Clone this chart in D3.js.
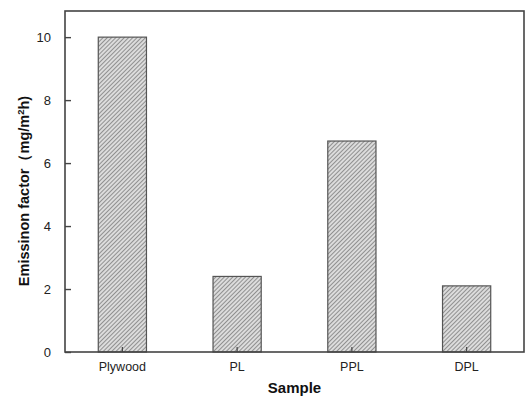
<!DOCTYPE html>
<html>
<head>
<meta charset="utf-8">
<script src="https://cdn.jsdelivr.net/npm/d3@7"></script>
<style>
  body { margin: 0; background: #fff; }
  svg { display: block; font-family: "Liberation Sans", Arial, sans-serif; }
</style>
</head>
<body>
<div class="container"></div>
<script>
// data
var samples = ["Plywood", "PL", "PPL", "DPL"];
var emission = [10.0, 2.4, 6.7, 2.1];
var yTicks = [0, 2, 4, 6, 8, 10];

var W = 526, H = 397;
var margin = {top: 11, right: 2, bottom: 45, left: 65};

var svg = d3.select('.container').append('svg')
  .attr('width', W).attr('height', H);

// hatch pattern for the bars
var pat = svg.append('defs').append('pattern')
  .attr('id', 'hatch')
  .attr('patternUnits', 'userSpaceOnUse')
  .attr('width', 3).attr('height', 3)
  .attr('patternTransform', 'rotate(45)');
pat.append('rect').attr('width', 3).attr('height', 3).attr('fill', '#dcdcdc');
pat.append('line')
  .attr('x1', 0).attr('y1', 0).attr('x2', 0).attr('y2', 3)
  .attr('stroke', '#666').attr('stroke-width', 1.3);

var x = d3.scaleBand()
  .domain(samples)
  .range([margin.left, W - margin.right])
  .paddingInner(0.58).paddingOuter(0.29);

var y = d3.scaleLinear()
  .domain([0, 10.83])
  .range([H - margin.bottom, margin.top]);

var data = samples.map(function(s, i){ return {name: s, v: emission[i]}; });

// bars
svg.selectAll('rect.bar')
  .data(data)
  .enter().append('rect')
  .attr('class', 'bar')
  .attr('x', function(d){ return x(d.name); })
  .attr('width', x.bandwidth())
  .attr('y', function(d){ return y(d.v); })
  .attr('height', function(d){ return y(0) - y(d.v); })
  .attr('fill', 'url(#hatch)')
  .attr('stroke', '#555')
  .attr('stroke-width', 1.2);

// frame
svg.append('rect')
  .attr('x', margin.left).attr('y', margin.top)
  .attr('width', W - margin.right - margin.left)
  .attr('height', H - margin.bottom - margin.top)
  .attr('fill', 'none')
  .attr('stroke', '#444')
  .attr('stroke-width', 1.6);

// y axis, ticks pointing inward
var yAxis = svg.append('g')
  .attr('transform', 'translate(' + margin.left + ',0)')
  .call(d3.axisLeft(y).tickValues(yTicks).tickSizeInner(-6).tickSizeOuter(0).tickPadding(14));
yAxis.select('.domain').remove();
yAxis.selectAll('.tick line').attr('stroke', '#444').attr('stroke-width', 1.4);
yAxis.selectAll('.tick text')
  .attr('fill', '#222')
  .style('font-size', '13px')
  .style('font-family', '"Liberation Sans", Arial, sans-serif');

// x axis, ticks pointing up into the bars
var xAxis = svg.append('g')
  .attr('transform', 'translate(0,' + (H - margin.bottom) + ')')
  .call(d3.axisBottom(x).tickSizeInner(-5).tickSizeOuter(0).tickPadding(10));
xAxis.select('.domain').remove();
xAxis.selectAll('.tick line').attr('stroke', '#444').attr('stroke-width', 1.2);
xAxis.selectAll('.tick text')
  .attr('fill', '#222')
  .style('font-size', '12.5px')
  .style('font-family', '"Liberation Sans", Arial, sans-serif');

// axis titles
svg.append('text')
  .attr('x', (margin.left + W - margin.right) / 2)
  .attr('y', 393)
  .attr('text-anchor', 'middle')
  .style('font-size', '15px')
  .style('font-weight', 'bold')
  .attr('fill', '#111')
  .text('Sample');

var yl = svg.append('text')
  .attr('transform', 'translate(29,191) rotate(-90)')
  .attr('text-anchor', 'middle')
  .style('font-size', '14.5px')
  .style('font-weight', 'bold')
  .attr('fill', '#111');
yl.append('tspan').text('Emissinon factor（mg/m');
yl.append('tspan').attr('dy', -5).style('font-size', '9.5px').text('2');
yl.append('tspan').attr('dy', 5).text('h)');
</script>
</body>
</html>
